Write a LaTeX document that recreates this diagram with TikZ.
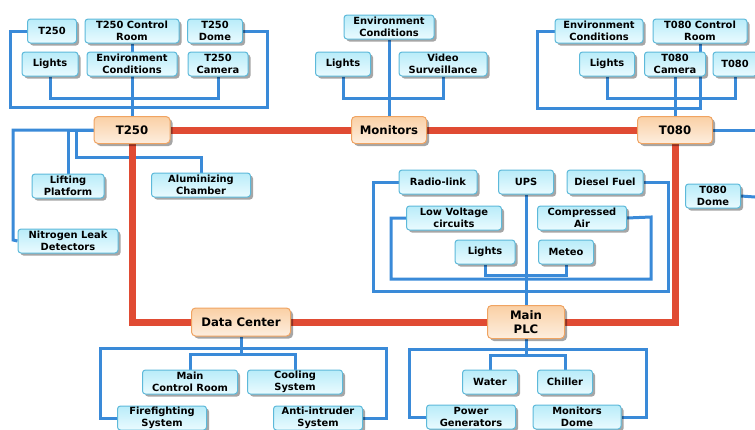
\documentclass[tikz,border=0pt]{standalone}
\usepackage{fontspec}
\setmainfont{DejaVu Sans}
\usetikzlibrary{shadows,backgrounds}
\definecolor{leafdraw}{HTML}{5DB9DA}
\definecolor{leaftop}{HTML}{B9ECF9}
\definecolor{leafbot}{HTML}{EAFBFF}
\definecolor{hubdraw}{HTML}{F0A462}
\definecolor{hubtop}{HTML}{FAD0A5}
\definecolor{hubbot}{HTML}{FDEEDF}
\definecolor{busblue}{HTML}{3A8AD8}
\definecolor{trunkred}{HTML}{E04B33}

\begin{document}
\begin{tikzpicture}[x=1pt, y=-1pt,
  leaf/.style={draw=leafdraw, line width=1pt, rounded corners=3pt,
    top color=leaftop, bottom color=leafbot,
    drop shadow={shadow xshift=2.5pt, shadow yshift=-2.5pt, fill=black, opacity=0.35},
    align=center, inner sep=1pt, minimum height=24pt,
    font=\fontsize{9.9}{11.7}\selectfont\bfseries},
  hub/.style={draw=hubdraw, line width=1pt, rounded corners=4pt,
    top color=hubtop, bottom color=hubbot,
    drop shadow={shadow xshift=2.5pt, shadow yshift=-2.5pt, fill=black, opacity=0.35},
    align=center, inner sep=1pt, minimum height=27pt,
    font=\fontsize{11.7}{13.3}\selectfont\bfseries},
  bus/.style={draw=busblue, line width=3pt},
  trunk/.style={draw=trunkred, line width=7pt}]
  \useasboundingbox (0,0) rectangle (755,429);
  % Hubs
  \node[hub, minimum width=76pt] (t250) at (132,130) {T250};
  \node[hub, minimum width=75pt] (monitors) at (389,130) {Monitors};
  \node[hub, minimum width=75pt] (t080) at (675,130) {T080};
  \node[hub, minimum width=99pt, minimum height=28pt] (dc) at (241,322) {Data Center};
  \node[hub, minimum width=77pt, minimum height=33pt] (plc) at (526,322) {Main\\PLC};
  % Leaves
  \foreach \n/\x/\y/\w/\t in {
    t250a/52/31/49/T250, t250ctrl/132/31/94/{T250 Control\\Room},
    t250dome/215/31/55/{T250\\Dome}, t250lights/50/64/56/Lights,
    t250env/132/64/90/{Environment\\Conditions}, t250cam/218/64/60/{T250\\Camera},
    lifting/68/186/72/{Lifting\\Platform}, alum/201/185/99/{Aluminizing\\Chamber},
    nitro/68/241/100/{Nitrogen Leak\\Detectors},
    monenv/389/27/90/{Environment\\Conditions}, monlights/343/64/55/Lights,
    video/443/64/88/{Video\\Surveillance},
    t080env/599/31/88/{Environment\\Conditions}, t080ctrl/700/31/94/{T080 Control\\Room},
    t080lights/607/64/55/Lights, t080cam/675/64/61/{T080\\Camera},
    t080a/735/64/44/T080, t080dome/713/196/55/{T080\\Dome},
    radio/438/182/78/Radio-link, ups/526/182/55/UPS, diesel/605/182/76/Diesel Fuel,
    lowvolt/454/218/95/{Low Voltage\\circuits}, air/582/218/89/{Compressed\\Air},
    plclights/485/252/60/Lights, meteo/566/252/55/Meteo,
    water/490/382/55/Water, chiller/565/382/55/Chiller,
    power/471/417/89/{Power\\Generators}, mondome/577/417/88/{Monitors\\Dome},
    mcr/190/382/95/{Main\\Control Room}, cooling/295/382/95/{Cooling\\System},
    fire/162/418/89/{Firefighting\\System}, anti/318/418/89/{Anti-intruder\\System}} {
    \node[leaf, minimum width=\w pt] (\n) at (\x,\y) {\t};
  }
  \coordinate (t080out) at (755,130);
  \coordinate (domeout) at (755,197);
  \begin{scope}[on background layer]
    % Blue links
    \draw[bus] (t250a.west) -| (10,107) -| (267,31) -- (t250dome.east);
    \draw[bus] (t250ctrl.south) -- (t250.north);
    \draw[bus] (t250lights.south) |- (132,98) -| (t250cam.south);
    \draw[bus] (t250.west) -| (13,240) -- (nitro.west);
    \draw[bus] (lifting.north) |- (t250.west);
    \draw[bus] (alum.north) |- (76,157) |- (t250.west);
    \draw[bus] (monenv.south) -- (monitors.north);
    \draw[bus] (monlights.south) |- (389,98) -| (video.south);
    \draw[bus] (t080env.west) -| (537,108) -| (t080ctrl.south);
    \draw[bus] (t080cam.south) -- (t080.north);
    \draw[bus] (t080lights.south) |- (675,98) -| (t080a.south);
    \draw[bus] (t080.east) -- (t080out);
    \draw[bus] (t080dome.east) -- (domeout);
    \draw[bus] (radio.west) -| (373,291) -| (668,182) -- (diesel.east);
    \draw[bus] (lowvolt.west) -| (391,279) -| (651,217) -- (air.east);
    \draw[bus] (plclights.south) |- (526,275) -| (meteo.south);
    \draw[bus] (ups.south) -- (plc.north);
    \draw[bus] (plc.south) -- (526,355);
    \draw[bus] (power.west) -| (409,349) -| (646,417) -- (mondome.east);
    \draw[bus] (water.north) |- (526,355) -| (chiller.north);
    \draw[bus] (dc.south) -- (241,354);
    \draw[bus] (fire.west) -| (100,348) -| (386,418) -- (anti.east);
    \draw[bus] (mcr.north) |- (241,354) -| (cooling.north);
    % Red backbone
    \draw[trunk] (t250.east) -- (monitors.west);
    \draw[trunk] (monitors.east) -- (t080.west);
    \draw[trunk] (t250.south) |- (dc.west);
    \draw[trunk] (dc.east) -- (plc.west);
    \draw[trunk] (plc.east) -| (t080.south);
  \end{scope}
\end{tikzpicture}
\end{document}
